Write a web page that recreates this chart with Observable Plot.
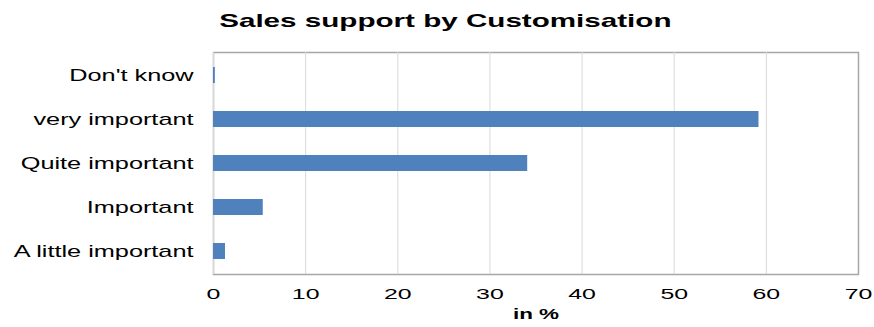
<!DOCTYPE html>
<html>
<head>
<meta charset="utf-8">
<script src="https://cdn.jsdelivr.net/npm/d3@7"></script>
<script src="https://cdn.jsdelivr.net/npm/@observablehq/plot@0.6"></script>
<style>
  html, body { margin: 0; padding: 0; background: #fff; }
  #title { width: 874px; height: 44px; line-height: 41px; text-align: center;
           font-family: "Liberation Sans", Arial, sans-serif; font-weight: bold; font-size: 18.5px; color: #000; }
  #title span { display: inline-block; transform: scaleX(1.6); margin-left: 16px; }
  #chart svg { display: block; }
</style>
</head>
<body>
<div id="title"><span>Sales support by Customisation</span></div>
<div id="chart"></div>
<script>
const categories = ["Don't know", "very important", "Quite important", "Important", "A little important"];
const values = [0.2, 59.2, 34.1, 5.4, 1.3];
const xTicks = [0, 10, 20, 30, 40, 50, 60, 70];
const xLabel = ["in %"];

const data = categories.map((c, i) => ({cat: c, value: values[i]}));

const chart = Plot.plot({
  width: 874,
  height: 283,
  marginLeft: 213,
  marginRight: 16,
  marginTop: 8,
  marginBottom: 53,
  style: {fontFamily: "'Liberation Sans', Arial, sans-serif", fontSize: "16px", color: "#000", background: "#fff"},
  x: {domain: [0, 70], ticks: xTicks, tickSize: 0, tickPadding: 14, label: null},
  y: {domain: categories, paddingInner: 0.64, paddingOuter: 0.32, tickSize: 0, tickPadding: 20, label: null},
  marks: [
    Plot.frame({stroke: "#a6a6a6", strokeWidth: 1.5}),
    Plot.ruleX(xTicks.slice(0, -1), {stroke: "#d9d9d9", strokeWidth: 1}),
    Plot.barX(data, {x: "value", y: "cat", fill: "#4F81BD"}),
    Plot.text(xLabel, {text: d => d, frameAnchor: "bottom", dy: 44, fontSize: 15, fontWeight: "bold", fill: "#000"})
  ]
});
document.getElementById("chart").appendChild(chart);

// horizontal stretch of the text, as in the reference rendering
function stretch(el, s) {
  const x = +el.getAttribute("x") || 0;
  const t = el.getAttribute("transform") || "";
  el.setAttribute("x", 0);
  el.setAttribute("transform", `${t} translate(${x},0) scale(${s},1)`);
}
chart.querySelectorAll("text").forEach(el => {
  const txt = el.textContent;
  if (txt === "in %") { stretch(el, 1.5); return; }
  if (categories.includes(txt)) { stretch(el, 1.58); return; }
  if (xTicks.map(String).includes(txt)) { el.style.fontSize = "15px"; stretch(el, 1.66); return; }
});
</script>
</body>
</html>
